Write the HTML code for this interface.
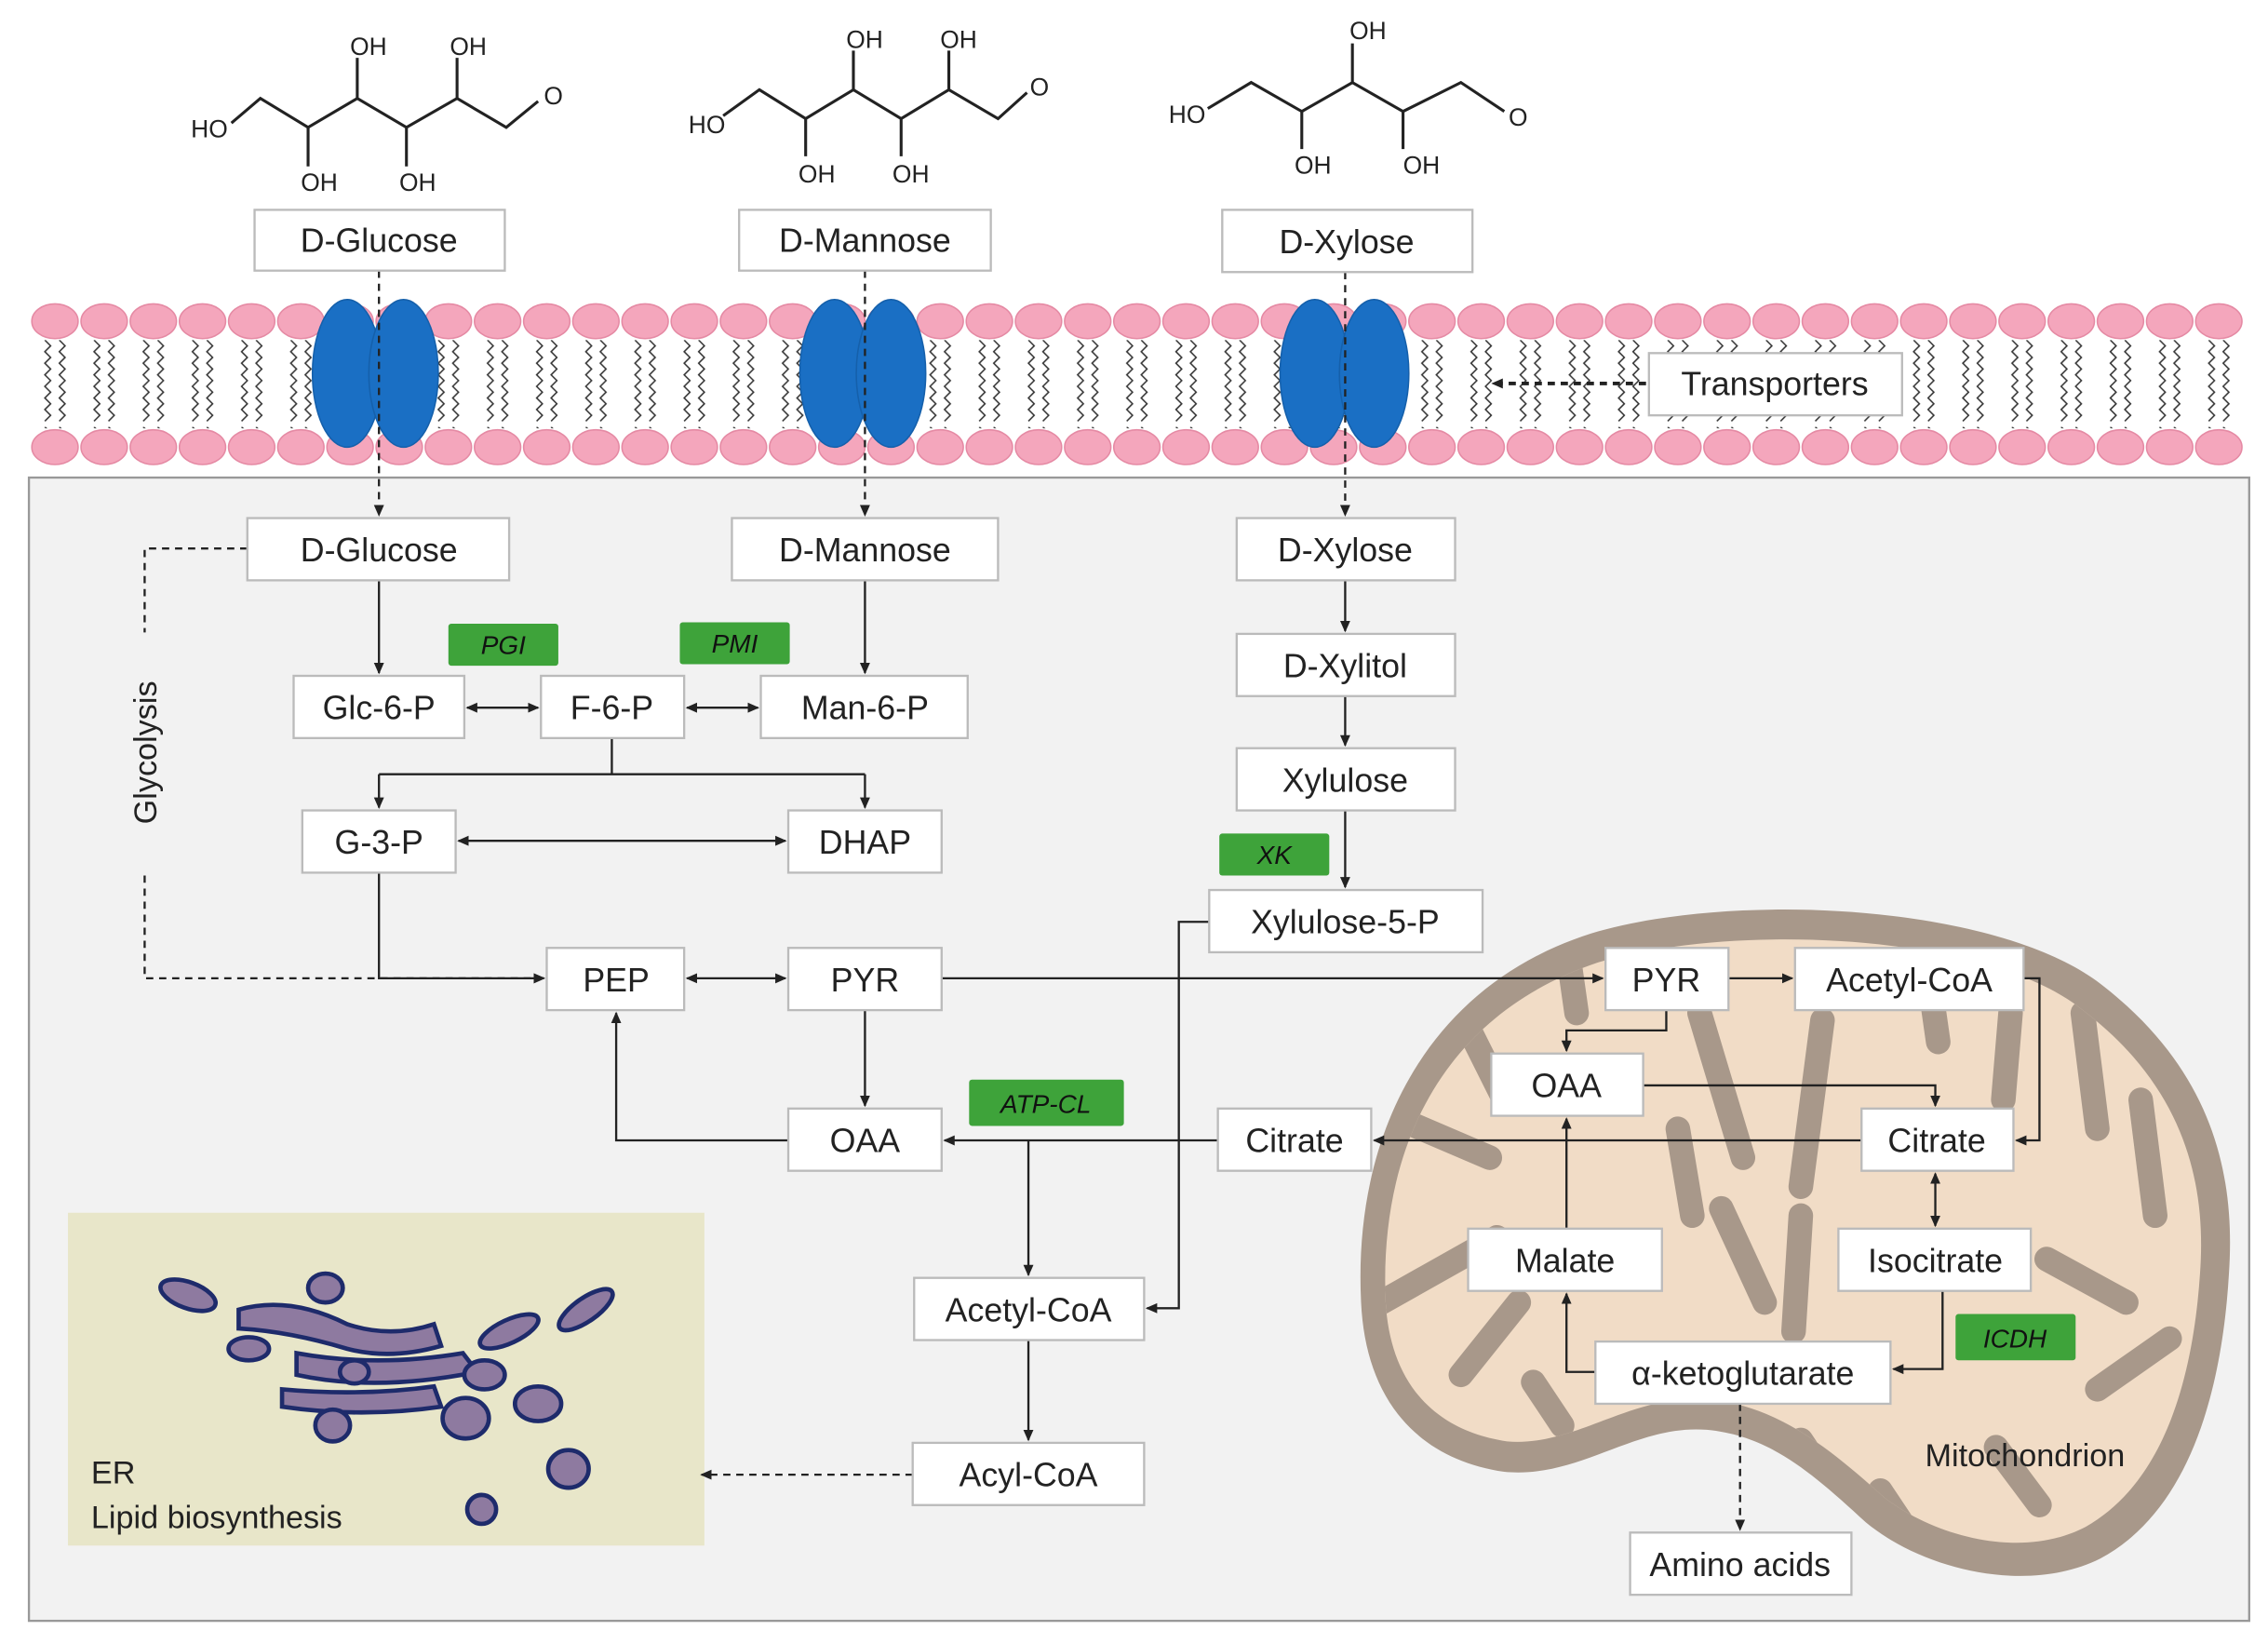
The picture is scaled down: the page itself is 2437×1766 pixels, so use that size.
<!DOCTYPE html>
<html><head><meta charset="utf-8"><style>html,body{margin:0;padding:0;background:#fff}svg{display:block}</style></head>
<body>
<svg width="2437" height="1766" viewBox="0 0 1568 1136" preserveAspectRatio="none" xmlns="http://www.w3.org/2000/svg" font-family="Liberation Sans, sans-serif">
<defs>
<marker id="a" markerWidth="8" markerHeight="8" refX="7" refY="4" orient="auto" markerUnits="userSpaceOnUse"><path d="M0,0.5 L8,4 L0,7.5 z" fill="#222"/></marker>
<marker id="s" markerWidth="8" markerHeight="8" refX="1" refY="4" orient="auto" markerUnits="userSpaceOnUse"><path d="M8,0.5 L0,4 L8,7.5 z" fill="#222"/></marker>
<pattern id="zz" width="34" height="60" patternUnits="userSpaceOnUse" x="21" y="235">
<path d="M10,0 l4,4 l-4,4 l4,4 l-4,4 l4,4 l-4,4 l4,4 l-4,4 l4,4 l-4,4 l4,4 l-4,4 l4,4 l-4,4 M20,0 l4,4 l-4,4 l4,4 l-4,4 l4,4 l-4,4 l4,4 l-4,4 l4,4 l-4,4 l4,4 l-4,4 l4,4 l-4,4" fill="none" stroke="#333" stroke-width="1"/>
</pattern>
<clipPath id="mc"><path d="M958,900 C953,790 1000,700 1105,665 C1200,637 1375,645 1440,698 C1515,755 1525,825 1521,880 C1516,955 1495,1025 1442,1055 C1398,1078 1338,1062 1303,1035 C1262,998 1228,972 1182,967 C1128,962 1090,1000 1042,996 C988,988 961,952 958,900 Z"/></clipPath>
</defs>
<rect width="1568" height="1136" fill="#fff"/>
<rect x="20" y="330" width="1535" height="790" fill="#f2f2f2" stroke="#999" stroke-width="1.5"/>
<rect x="21" y="234" width="1525" height="62" fill="url(#zz)"/>
<g fill="#f4a6bc" stroke="#e58aa4">
<g id="heads">
<ellipse cx="38" cy="222" rx="16" ry="12"/><ellipse cx="72" cy="222" rx="16" ry="12"/><ellipse cx="106" cy="222" rx="16" ry="12"/><ellipse cx="140" cy="222" rx="16" ry="12"/><ellipse cx="174" cy="222" rx="16" ry="12"/><ellipse cx="208" cy="222" rx="16" ry="12"/><ellipse cx="242" cy="222" rx="16" ry="12"/><ellipse cx="276" cy="222" rx="16" ry="12"/><ellipse cx="310" cy="222" rx="16" ry="12"/><ellipse cx="344" cy="222" rx="16" ry="12"/><ellipse cx="378" cy="222" rx="16" ry="12"/><ellipse cx="412" cy="222" rx="16" ry="12"/><ellipse cx="446" cy="222" rx="16" ry="12"/><ellipse cx="480" cy="222" rx="16" ry="12"/><ellipse cx="514" cy="222" rx="16" ry="12"/><ellipse cx="548" cy="222" rx="16" ry="12"/><ellipse cx="582" cy="222" rx="16" ry="12"/><ellipse cx="616" cy="222" rx="16" ry="12"/><ellipse cx="650" cy="222" rx="16" ry="12"/><ellipse cx="684" cy="222" rx="16" ry="12"/><ellipse cx="718" cy="222" rx="16" ry="12"/><ellipse cx="752" cy="222" rx="16" ry="12"/><ellipse cx="786" cy="222" rx="16" ry="12"/><ellipse cx="820" cy="222" rx="16" ry="12"/><ellipse cx="854" cy="222" rx="16" ry="12"/><ellipse cx="888" cy="222" rx="16" ry="12"/><ellipse cx="922" cy="222" rx="16" ry="12"/><ellipse cx="956" cy="222" rx="16" ry="12"/><ellipse cx="990" cy="222" rx="16" ry="12"/><ellipse cx="1024" cy="222" rx="16" ry="12"/><ellipse cx="1058" cy="222" rx="16" ry="12"/><ellipse cx="1092" cy="222" rx="16" ry="12"/><ellipse cx="1126" cy="222" rx="16" ry="12"/><ellipse cx="1160" cy="222" rx="16" ry="12"/><ellipse cx="1194" cy="222" rx="16" ry="12"/><ellipse cx="1228" cy="222" rx="16" ry="12"/><ellipse cx="1262" cy="222" rx="16" ry="12"/><ellipse cx="1296" cy="222" rx="16" ry="12"/><ellipse cx="1330" cy="222" rx="16" ry="12"/><ellipse cx="1364" cy="222" rx="16" ry="12"/><ellipse cx="1398" cy="222" rx="16" ry="12"/><ellipse cx="1432" cy="222" rx="16" ry="12"/><ellipse cx="1466" cy="222" rx="16" ry="12"/><ellipse cx="1500" cy="222" rx="16" ry="12"/><ellipse cx="1534" cy="222" rx="16" ry="12"/>
</g>
<use href="#heads" y="87"/>
</g>
<g fill="#1a6fc4" stroke="#1560ab">
<ellipse cx="240" cy="258" rx="24" ry="51"/><ellipse cx="279" cy="258" rx="24" ry="51"/>
<ellipse cx="577" cy="258" rx="24" ry="51"/><ellipse cx="616" cy="258" rx="24" ry="51"/>
<ellipse cx="909" cy="258" rx="24" ry="51"/><ellipse cx="950" cy="258" rx="24" ry="51"/>
</g>
<!-- mitochondrion -->
<path d="M941,900 C935,780 990,680 1100,645 C1200,615 1385,625 1455,682 C1535,745 1545,820 1541,880 C1536,965 1512,1045 1452,1077 C1402,1102 1330,1085 1290,1052 C1250,1015 1222,992 1180,988 C1130,984 1092,1022 1040,1017 C978,1008 944,965 941,900 Z" fill="#a8988a"/>
<path d="M958,900 C953,790 1000,700 1105,665 C1200,637 1375,645 1440,698 C1515,755 1525,825 1521,880 C1516,955 1495,1025 1442,1055 C1398,1078 1338,1062 1303,1035 C1262,998 1228,972 1182,967 C1128,962 1090,1000 1042,996 C988,988 961,952 958,900 Z" fill="#f1dcc6"/>
<g clip-path="url(#mc)" stroke="#a8988a" stroke-width="17" fill="none" stroke-linecap="round">
<path d="M960,770 L1030,800"/><path d="M955,900 L1035,855"/><path d="M1010,700 L1040,760"/><path d="M1080,630 L1090,700"/>
<path d="M1175,700 L1205,800"/><path d="M1245,820 L1260,705"/><path d="M1330,650 L1340,720"/><path d="M1390,700 L1385,760"/>
<path d="M1440,700 L1450,780"/><path d="M1480,760 L1490,840"/><path d="M1415,870 L1470,900"/><path d="M1450,960 L1500,925"/>
<path d="M1190,835 L1220,900"/><path d="M1245,840 L1240,920"/><path d="M1245,995 L1265,1025"/><path d="M1380,1000 L1410,1040"/>
<path d="M1060,955 L1080,985"/><path d="M1050,900 L1010,950"/><path d="M1160,780 L1170,840"/><path d="M1300,1030 L1320,1060"/>
</g>
<text x="1400" y="1013" font-size="22" text-anchor="middle" fill="#222">Mitochondrion</text>
<!-- ER -->
<rect x="47" y="838" width="440" height="230" fill="#e8e6c9"/>
<g fill="#8e7aa0" stroke="#1e2b6b" stroke-width="3">
<ellipse cx="130" cy="895" rx="20" ry="9" transform="rotate(20 130 895)"/>
<ellipse cx="225" cy="890" rx="12" ry="10"/>
<path d="M165,905 Q200,895 240,915 Q270,925 300,915 L305,930 Q270,940 240,932 Q200,920 165,918 Z"/>
<ellipse cx="172" cy="932" rx="14" ry="8"/>
<path d="M205,935 Q260,945 320,935 L330,948 Q260,962 205,950 Z"/>
<ellipse cx="352" cy="920" rx="22" ry="8" transform="rotate(-25 352 920)"/>
<ellipse cx="405" cy="905" rx="22" ry="8" transform="rotate(-35 405 905)"/>
<path d="M195,960 Q250,965 300,958 L305,972 Q250,980 195,972 Z"/>
<ellipse cx="335" cy="950" rx="14" ry="10"/>
<ellipse cx="322" cy="980" rx="16" ry="14"/>
<ellipse cx="372" cy="970" rx="16" ry="12"/>
<ellipse cx="230" cy="985" rx="12" ry="11"/>
<ellipse cx="393" cy="1015" rx="14" ry="13"/>
<ellipse cx="333" cy="1043" rx="10" ry="10"/>
<ellipse cx="245" cy="948" rx="10" ry="8"/>
</g>
<text x="63" y="1025" font-size="22" fill="#222">ER</text>
<text x="63" y="1056" font-size="22" fill="#222">Lipid biosynthesis</text>
<!-- sugars -->
<g fill="none" stroke="#222" stroke-width="2">
<path d="M160,85 L180,68 L213,88 L247,68 L281,88 L316,68 L350,88 L372,70"/>
<path d="M247,68 L247,40 M316,68 L316,40 M213,88 L213,115 M281,88 L281,115"/>
<path d="M500,80 L525,62 L557,82 L590,62 L623,82 L656,62 L690,82 L710,64"/>
<path d="M590,62 L590,35 M656,62 L656,35 M557,82 L557,108 M623,82 L623,108"/>
<path d="M835,75 L865,57 L900,77 L935,57 L970,77 L1010,57 L1040,77"/>
<path d="M935,57 L935,30 M900,77 L900,103 M970,77 L970,103"/>
</g>
<g font-size="17" fill="#222">
<text x="132" y="95">HO</text><text x="242" y="38">OH</text><text x="311" y="38">OH</text><text x="208" y="132">OH</text><text x="276" y="132">OH</text><text x="376" y="72">O</text>
<text x="476" y="92">HO</text><text x="585" y="33">OH</text><text x="650" y="33">OH</text><text x="552" y="126">OH</text><text x="617" y="126">OH</text><text x="712" y="66">O</text>
<text x="808" y="85">HO</text><text x="933" y="27">OH</text><text x="895" y="120">OH</text><text x="970" y="120">OH</text><text x="1043" y="87">O</text>
</g>
<g stroke="#222" stroke-width="1.5" fill="none">
<g stroke-dasharray="5,4">
<path d="M262,187 V356" marker-end="url(#a)"/>
<path d="M598,187 V356" marker-end="url(#a)"/>
<path d="M930,188 V356" marker-end="url(#a)"/>
<path d="M1138,265 H1032" stroke-width="2.5" marker-end="url(#a)"/>
<path d="M171,379 H100 V437"/>
<path d="M100,605 V676 H376" marker-end="url(#a)"/>
<path d="M631,1019 H485" marker-end="url(#a)"/>
<path d="M1203,970 V1057" marker-end="url(#a)"/>
</g>
<path d="M262,401 V465" marker-end="url(#a)"/>
<path d="M598,401 V465" marker-end="url(#a)"/>
<path d="M323,489 H372" marker-start="url(#s)" marker-end="url(#a)"/>
<path d="M475,489 H524" marker-start="url(#s)" marker-end="url(#a)"/>
<path d="M423,510 V535 M262,535 H598"/>
<path d="M262,535 V558" marker-end="url(#a)"/>
<path d="M598,535 V558" marker-end="url(#a)"/>
<path d="M317,581 H543" marker-start="url(#s)" marker-end="url(#a)"/>
<path d="M262,603 V676 H376" marker-end="url(#a)"/>
<path d="M475,676 H543" marker-start="url(#s)" marker-end="url(#a)"/>
<path d="M651,676 H1108" marker-end="url(#a)"/>
<path d="M598,698 V764" marker-end="url(#a)"/>
<path d="M545,788 H426 V700" marker-end="url(#a)"/>
<path d="M842,788 H653" marker-end="url(#a)"/>
<path d="M1287,788 H950" marker-end="url(#a)"/>
<path d="M711,788 V881" marker-end="url(#a)"/>
<path d="M711,926 V995" marker-end="url(#a)"/>
<path d="M836,637 H815 V904 H793" marker-end="url(#a)"/>
<path d="M930,401 V436" marker-end="url(#a)"/>
<path d="M930,481 V515" marker-end="url(#a)"/>
<path d="M930,560 V613" marker-end="url(#a)"/>
<path d="M1195,676 H1239" marker-end="url(#a)"/>
<path d="M1152,698 V712 H1083 V726" marker-end="url(#a)"/>
<path d="M1399,676 H1410 V788 H1394" marker-end="url(#a)"/>
<path d="M1136,750 H1338 V764" marker-end="url(#a)"/>
<path d="M1338,811 V847" marker-start="url(#s)" marker-end="url(#a)"/>
<path d="M1343,892 V946 H1309" marker-end="url(#a)"/>
<path d="M1103,948 H1083 V894" marker-end="url(#a)"/>
<path d="M1083,849 V773" marker-end="url(#a)"/>
</g>
<text transform="translate(108,520) rotate(-90)" font-size="22" text-anchor="middle" fill="#222">Glycolysis</text>
<g fill="#fff" stroke="#bbb" stroke-width="1.5">
<rect x="176" y="145" width="173" height="42"/><rect x="511" y="145" width="174" height="42"/><rect x="845" y="145" width="173" height="43"/>
<rect x="1140" y="244" width="175" height="43"/>
<rect x="171" y="358" width="181" height="43"/><rect x="506" y="358" width="184" height="43"/><rect x="855" y="358" width="151" height="43"/>
<rect x="855" y="438" width="151" height="43"/><rect x="855" y="517" width="151" height="43"/><rect x="836" y="615" width="189" height="43"/>
<rect x="203" y="467" width="118" height="43"/><rect x="374" y="467" width="99" height="43"/><rect x="526" y="467" width="143" height="43"/>
<rect x="209" y="560" width="106" height="43"/><rect x="545" y="560" width="106" height="43"/>
<rect x="378" y="655" width="95" height="43"/><rect x="545" y="655" width="106" height="43"/><rect x="545" y="766" width="106" height="43"/><rect x="842" y="766" width="106" height="43"/>
<rect x="632" y="883" width="159" height="43"/><rect x="631" y="997" width="160" height="43"/>
<rect x="1110" y="655" width="85" height="43"/><rect x="1241" y="655" width="158" height="43"/><rect x="1031" y="728" width="105" height="43"/><rect x="1287" y="766" width="105" height="43"/>
<rect x="1015" y="849" width="134" height="43"/><rect x="1271" y="849" width="133" height="43"/><rect x="1103" y="927" width="204" height="43"/><rect x="1127" y="1059" width="153" height="43"/>
</g>
<g fill="#3ea33a">
<rect x="310" y="431" width="76" height="29" rx="2"/><rect x="470" y="430" width="76" height="29" rx="2"/><rect x="843" y="576" width="76" height="29" rx="2"/><rect x="670" y="746" width="107" height="32" rx="2"/><rect x="1352" y="908" width="83" height="32" rx="2"/>
</g>
<g font-size="18" font-style="italic" fill="#111" text-anchor="middle">
<text x="348" y="452">PGI</text><text x="508" y="451">PMI</text><text x="881" y="597">XK</text><text x="723" y="769">ATP-CL</text><text x="1393" y="931">ICDH</text>
</g>
<g font-size="23" fill="#222" text-anchor="middle">
<text x="262" y="174">D-Glucose</text><text x="598" y="174">D-Mannose</text><text x="931" y="175">D-Xylose</text>
<text x="1227" y="273">Transporters</text>
<text x="262" y="388">D-Glucose</text><text x="598" y="388">D-Mannose</text><text x="930" y="388">D-Xylose</text>
<text x="930" y="468">D-Xylitol</text><text x="930" y="547">Xylulose</text><text x="930" y="645">Xylulose-5-P</text>
<text x="262" y="497">Glc-6-P</text><text x="423" y="497">F-6-P</text><text x="598" y="497">Man-6-P</text>
<text x="262" y="590">G-3-P</text><text x="598" y="590">DHAP</text>
<text x="426" y="685">PEP</text><text x="598" y="685">PYR</text><text x="598" y="796">OAA</text><text x="895" y="796">Citrate</text>
<text x="711" y="913">Acetyl-CoA</text><text x="711" y="1027">Acyl-CoA</text>
<text x="1152" y="685">PYR</text><text x="1320" y="685">Acetyl-CoA</text><text x="1083" y="758">OAA</text><text x="1339" y="796">Citrate</text>
<text x="1082" y="879">Malate</text><text x="1338" y="879">Isocitrate</text><text x="1205" y="957">α-ketoglutarate</text><text x="1203" y="1089">Amino acids</text>
</g>
</svg>
</body></html>
